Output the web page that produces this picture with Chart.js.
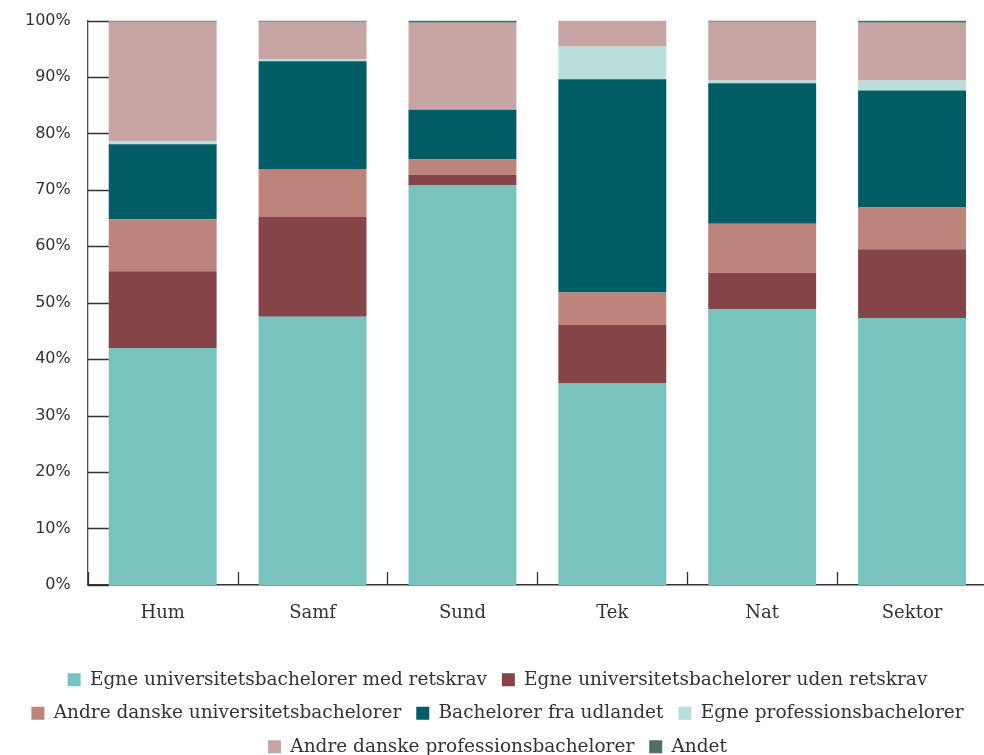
<!DOCTYPE html>
<html lang="da">
<head>
  <meta charset="UTF-8">
  <title>Optag fordelt på bachelorbaggrund</title>
  <script src="https://cdn.jsdelivr.net/npm/chart.js"></script>
  <style>
    html, body {
      margin: 0;
      padding: 0;
      background: #fff;
      overflow: hidden;
    }
    .wrap {
      position: relative;
      width: 990px;
      height: 772px;
      margin-top: -6px;
    }
  </style>
</head>
<body>
  <div class="wrap">
    <canvas id="chart"></canvas>
  </div>

  <script>
    // Kategorier (hovedområder)
    const categories = ['Hum', 'Samf', 'Sund', 'Tek', 'Nat', 'Sektor'];

    // Andele i procent pr. serie
    const egneMedRetskrav    = [42.0, 47.5, 70.8, 35.7, 48.8, 47.3];
    const egneUdenRetskrav   = [13.6, 17.7,  1.9, 10.4,  6.5, 12.2];
    const andreDanskeUni     = [ 9.2,  8.5,  2.7,  5.7,  8.7,  7.4];
    const udlandet           = [13.3, 19.1,  8.8, 37.8, 24.9, 20.7];
    const egneProfession     = [ 0.5,  0.3,  0.0,  5.8,  0.5,  1.8];
    const andreDanskeProf    = [21.2,  6.7, 15.4,  4.6, 10.4, 10.2];
    const andet              = [ 0.2,  0.2,  0.4,  0.0,  0.2,  0.4];

    const yTicks = [0, 10, 20, 30, 40, 50, 60, 70, 80, 90, 100];

    const serifFont = "'DejaVu Serif', serif";
    const sansFont = "'DejaVu Sans', sans-serif";

    // short inward ticks on both axes
    const innerTicks = {
      id: 'innerTicks',
      afterDraw(chart) {
        const { ctx, chartArea, scales } = chart;
        const x = scales.x, y = scales.y;
        ctx.save();
        ctx.strokeStyle = '#333';
        ctx.lineWidth = 1.3;
        ctx.beginPath();
        yTicks.forEach(v => {
          const py = Math.round(y.getPixelForValue(v)) + 0.5;
          ctx.moveTo(chartArea.left, py);
          ctx.lineTo(chartArea.left + 21, py);
        });
        const step = x.width / categories.length;
        for (let i = 0; i <= categories.length; i++) {
          const px = Math.round(x.left + i * step) + 0.5;
          ctx.moveTo(px, chartArea.bottom);
          ctx.lineTo(px, chartArea.bottom - 13);
        }
        ctx.stroke();
        ctx.restore();
      }
    };

    const ds = (label, data, color) => ({
      label: label,
      data: data,
      backgroundColor: color,
      borderWidth: 0,
      barPercentage: 0.72,
      categoryPercentage: 1.0
    });

    new Chart(document.getElementById('chart'), {
      type: 'bar',
      data: {
        labels: categories,
        datasets: [
          ds('Egne universitetsbachelorer med retskrav', egneMedRetskrav, '#78c3bd'),
          ds('Egne universitetsbachelorer uden retskrav', egneUdenRetskrav, '#844448'),
          ds('Andre danske universitetsbachelorer', andreDanskeUni, '#bd847c'),
          ds('Bachelorer fra udlandet', udlandet, '#005d66'),
          ds('Egne professionsbachelorer', egneProfession, '#b9dedc'),
          ds('Andre danske professionsbachelorer', andreDanskeProf, '#c8a5a5'),
          ds('Andet', andet, '#4f6e66')
        ]
      },
      options: {
        responsive: true,
        maintainAspectRatio: false,
        animation: false,
        layout: {
          padding: { left: 8, right: 3, top: 14, bottom: 0 }
        },
        plugins: {
          legend: {
            position: 'bottom',
            labels: {
              color: '#333',
              font: { family: serifFont, size: 18.5 },
              boxWidth: 13,
              boxHeight: 13,
              padding: 15
            }
          },
          tooltip: { enabled: false }
        },
        scales: {
          x: {
            stacked: true,
            grid: { display: false, drawTicks: false },
            border: { display: true, color: '#333', width: 1.5 },
            ticks: {
              color: '#333',
              font: { family: serifFont, size: 18 },
              padding: 18
            },
            afterFit(scale) {
              scale.height += 13;
            }
          },
          y: {
            stacked: true,
            min: 0,
            max: 100,
            grid: { display: false, drawTicks: false },
            border: { display: true, color: '#555', width: 1.3 },
            ticks: {
              stepSize: 10,
              color: '#333',
              font: { family: sansFont, size: 16 },
              padding: 17,
              callback: v => v + '%'
            }
          }
        }
      },
      plugins: [innerTicks]
    });
  </script>
</body>
</html>
